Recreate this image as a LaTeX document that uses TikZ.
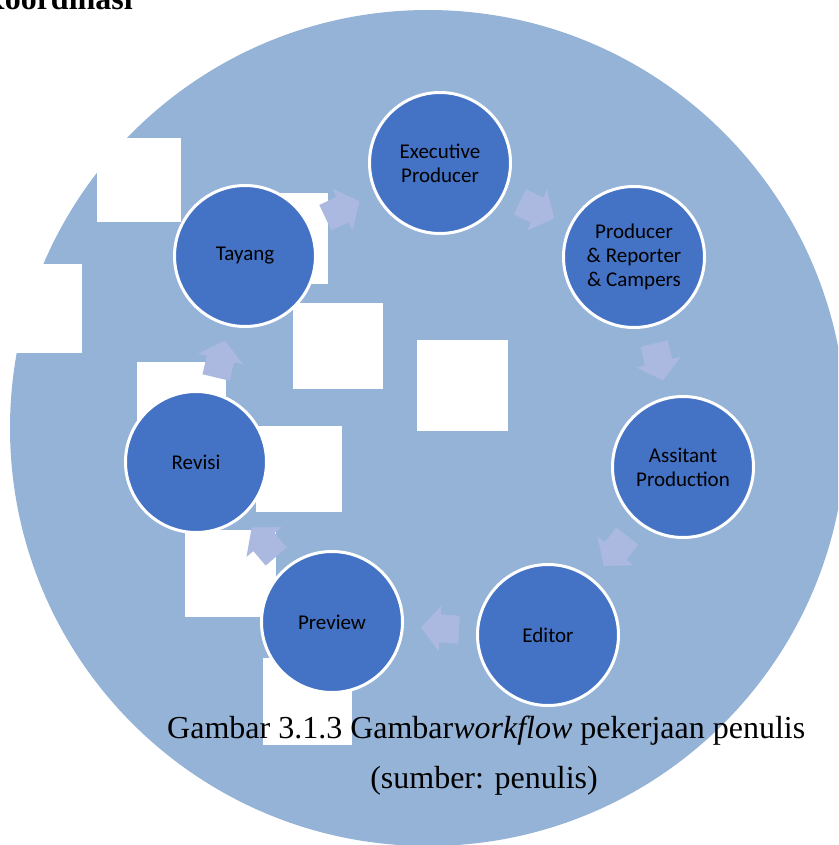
\documentclass[tikz,border=0pt]{standalone}
\usepackage{fontspec}
\setmainfont{Liberation Serif}
\newfontfamily\calib{Carlito}
\usetikzlibrary{calc}
\definecolor{bgblue}{HTML}{95B3D7}
\definecolor{nodeblue}{HTML}{4472C4}
\definecolor{arrowblue}{HTML}{ABB8DF}
\begin{document}
\begin{tikzpicture}[x=1pt,y=-1pt,
  stage/.style={circle, fill=nodeblue, draw=white, line width=3pt, minimum size=141pt,
    inner sep=0pt, align=center, font=\calib\fontsize{21}{24}\selectfont, text=black},
  patch/.style={fill=white},
  captext/.style={inner sep=0pt, font=\fontsize{32}{38}\selectfont},
  barrow/.pic={\fill[arrowblue] (-19,-14) -- (0,-14) -- (0,-23) -- (19,0) -- (0,23) -- (0,14) -- (-19,14) -- cycle;}
]
\useasboundingbox (0,0) rectangle (838,845);
\clip (0,0) rectangle (838,845);
% background disc
\fill[bgblue] (428,428) circle (418pt);
% white patches
\fill[patch] (97,138) rectangle (181,222);
\fill[patch] (-2,264) rectangle (82,353);
\fill[patch] (243,193) rectangle (328,284);
\fill[patch] (293,303) rectangle (383,389);
\fill[patch] (417,340) rectangle (508,431);
\fill[patch] (137,362) rectangle (226,450);
\fill[patch] (256,426) rectangle (342,512);
\fill[patch] (185,530) rectangle (276,617);
\fill[patch] (263,658) rectangle (352,745);
% stages
\node[stage] (exec) at (440,163) {Executive\\Producer};
\node[stage] (prod) at (634,257) {Producer\\\& Reporter\\\& Campers};
\node[stage] (asst) at (683,467) {Assitant\\Production};
\node[stage] (edit) at (548,635) {Editor};
\node[stage] (prev) at (332,622) {Preview};
\node[stage] (rev) at (196,462) {Revisi};
\node[stage] (tay) at (245,256) {Tayang};
% arrows
\foreach \a/\b in {tay/exec, exec/prod, prod/asst, asst/edit, edit/prev, prev/rev, rev/tay}
  \path let \p1=($(\b)-(\a)$), \n1={atan2(\y1,\x1)} in ($(\a)!0.5!(\b)$) pic[rotate=\n1] {barrow};
% texts
\node[captext, anchor=base east, font=\bfseries\fontsize{32}{38}\selectfont] (title) at (133,10) {Koordinasi};
\node[captext, anchor=base west] (cap) at (167,738) {Gambar 3.1.3 Gambar\textit{workflow} pekerjaan penulis};
\node[captext, anchor=base] (src) at (484,788) {(sumber: penulis)};
\end{tikzpicture}
\end{document}
